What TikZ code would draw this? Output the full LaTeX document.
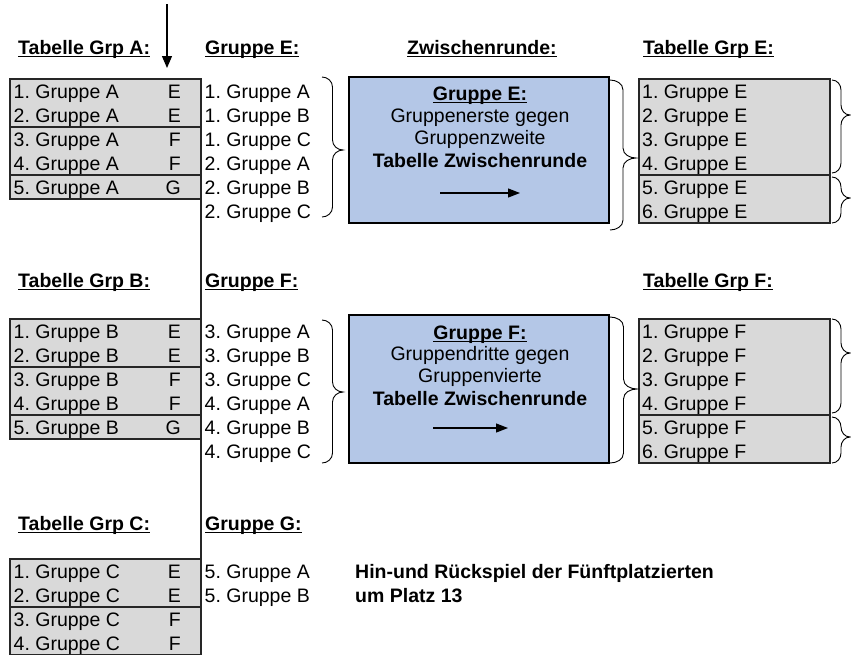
\documentclass[tikz,border=0pt]{standalone}
\usepackage{fontspec}
\setmainfont{Liberation Sans}
\usetikzlibrary{arrows.meta}
\frenchspacing
\definecolor{cellgray}{HTML}{D9D9D9}
\definecolor{boxblue}{HTML}{B4C7E7}
\definecolor{edge}{HTML}{262626}
\newcommand{\ulbf}[1]{\setbox0\hbox{\bfseries #1}\rlap{\rule[-3pt]{\wd0}{1.4pt}}\box0}
\newcommand{\brc}[5]{% x0 x1 top tip bot
  \pgfmathsetmacro{\bxm}{(#1+#2)/2}%
  \pgfmathsetmacro{\bya}{#3+10}%
  \pgfmathsetmacro{\byb}{#4-10}%
  \pgfmathsetmacro{\byc}{#4+10}%
  \pgfmathsetmacro{\byd}{#5-10}%
  \draw[bracestyle] (#1,#3) to[out=0,in=90] (\bxm,\bya)
    -- (\bxm,\byb) to[out=-90,in=180] (#2,#4)
    to[out=180,in=90] (\bxm,\byc)
    -- (\bxm,\byd) to[out=-90,in=0] (#1,#5);}
\begin{document}
\begin{tikzpicture}[x=1pt,y=-1pt,
  txt/.style={anchor=base west,inner sep=0pt,font=\fontsize{19.5}{22}\selectfont},
  txtr/.style={anchor=base east,inner sep=0pt,font=\fontsize{19.5}{22}\selectfont},
  txtc/.style={anchor=base,inner sep=0pt,font=\fontsize{19.5}{22}\selectfont},
  tbl/.style={draw=edge,line width=1.3pt,fill=cellgray},
  sep/.style={draw=edge,line width=1.3pt},
  bluebox/.style={draw=black,line width=1.3pt,fill=boxblue},
  bracestyle/.style={draw=black,line width=0.9pt},
  arr/.style={-{Triangle[width=10pt,length=12pt]},line width=1.2pt},
  arrsmall/.style={-{Triangle[width=9pt,length=12pt]},line width=1.2pt}]
\useasboundingbox (0,0) rectangle (851,654);
\fill[white] (0,0) rectangle (851,654);

% headers
\node[txt] (hA) at (18,54) {\ulbf{Tabelle Grp A:}};
\node[txt] (hE) at (205,54) {\ulbf{Gruppe E:}};
\node[txt] (hZ) at (407,54) {\ulbf{Zwischenrunde:}};
\node[txt] (hTE) at (643,54) {\ulbf{Tabelle Grp E:}};
\node[txt] (hB) at (18,287) {\ulbf{Tabelle Grp B:}};
\node[txt] (hF) at (205,287) {\ulbf{Gruppe F:}};
\node[txt] (hTF) at (643,287) {\ulbf{Tabelle Grp F:}};
\node[txt] (hC) at (18,530) {\ulbf{Tabelle Grp C:}};
\node[txt] (hG) at (205,530) {\ulbf{Gruppe G:}};

% tables A, B, C
\draw[tbl] (10,79) rectangle (201,199);
\draw[sep] (10,127) -- (201,127);
\draw[sep] (10,175) -- (201,175);
\draw[tbl] (10,319) rectangle (201,439);
\draw[sep] (10,367) -- (201,367);
\draw[sep] (10,415) -- (201,415);
\draw[tbl] (10,559) rectangle (201,655);
\draw[sep] (10,607) -- (201,607);

\foreach \i/\l in {1/E,2/E,3/F,4/F,5/G}{
  \node[txt] (a\i) at (13.5,{79+24*(\i-1)+19.5}) {\i. Gruppe A};
  \node[txtr] (al\i) at (181,{79+24*(\i-1)+19.5}) {\l};
  \node[txt] (b\i) at (13.5,{319+24*(\i-1)+19.5}) {\i. Gruppe B};
  \node[txtr] (bl\i) at (181,{319+24*(\i-1)+19.5}) {\l};
}
\foreach \i/\l in {1/E,2/E,3/F,4/F}{
  \node[txt] (c\i) at (13.5,{559+24*(\i-1)+19.5}) {\i. Gruppe C};
  \node[txtr] (cl\i) at (181,{559+24*(\i-1)+19.5}) {\l};
}

% vertical line and arrow
\coordinate (vtop) at (201,79);
\coordinate (vbot) at (201,660);
\draw[edge,line width=1.3pt] (vtop) -- (vbot);
\coordinate (atop) at (167,4);
\coordinate (atip) at (167,68);
\draw[arr] (atop) -- (atip);

% group lists
\foreach \t [count=\i] in {1. Gruppe A,1. Gruppe B,1. Gruppe C,2. Gruppe A,2. Gruppe B,2. Gruppe C}{
  \node[txt] (e\i) at (204.5,{79+24*(\i-1)+19.5}) {\t};
}
\foreach \t [count=\i] in {3. Gruppe A,3. Gruppe B,3. Gruppe C,4. Gruppe A,4. Gruppe B,4. Gruppe C}{
  \node[txt] (f\i) at (204.5,{319+24*(\i-1)+19.5}) {\t};
}
\node[txt] (g1) at (204.5,578.5) {5. Gruppe A};
\node[txt] (g2) at (204.5,602.5) {5. Gruppe B};
\node[txt] (hin1) at (355,578.5) {\bfseries Hin-und Rückspiel der Fünftplatzierten};
\node[txt] (hin2) at (355,602.5) {\bfseries um Platz 13};

% blue boxes
\draw[bluebox] (349,77) rectangle (609,223);
\node[txtc] (zE1) at (480,100) {\ulbf{Gruppe E:}};
\node[txtc] (zE2) at (480,122) {Gruppenerste gegen};
\node[txtc] (zE3) at (480,144.5) {Gruppenzweite};
\node[txtc] (zE4) at (480,167) {\bfseries Tabelle Zwischenrunde};
\coordinate (zEa) at (440,193);
\coordinate (zEb) at (520,193);
\draw[arrsmall] (zEa) -- (zEb);

\draw[bluebox] (349,315) rectangle (609,463);
\node[txtc] (zF1) at (480,339) {\ulbf{Gruppe F:}};
\node[txtc] (zF2) at (480,360.5) {Gruppendritte gegen};
\node[txtc] (zF3) at (480,382.5) {Gruppenvierte};
\node[txtc] (zF4) at (480,405) {\bfseries Tabelle Zwischenrunde};
\coordinate (zFa) at (433,428);
\coordinate (zFb) at (508,428);
\draw[arrsmall] (zFa) -- (zFb);

% tables E, F
\draw[tbl] (639,79) rectangle (830,223);
\draw[sep] (639,175) -- (830,175);
\draw[tbl] (639,319) rectangle (830,463);
\draw[sep] (639,415) -- (830,415);
\foreach \i in {1,...,6}{
  \node[txt] (te\i) at (642,{79+24*(\i-1)+19.5}) {\i. Gruppe E};
  \node[txt] (tf\i) at (642,{319+24*(\i-1)+19.5}) {\i. Gruppe F};
}

% braces
\brc{322}{343}{77}{150}{217}
\brc{610}{636}{80}{158}{230}
\brc{832}{850}{80}{115}{173}
\brc{832}{850}{177}{198}{223}
\brc{322}{343}{320}{392}{463}
\brc{610}{637}{317}{389}{463}
\brc{832}{850}{319}{353}{413}
\brc{832}{850}{417}{437}{463}
\end{tikzpicture}
\end{document}
